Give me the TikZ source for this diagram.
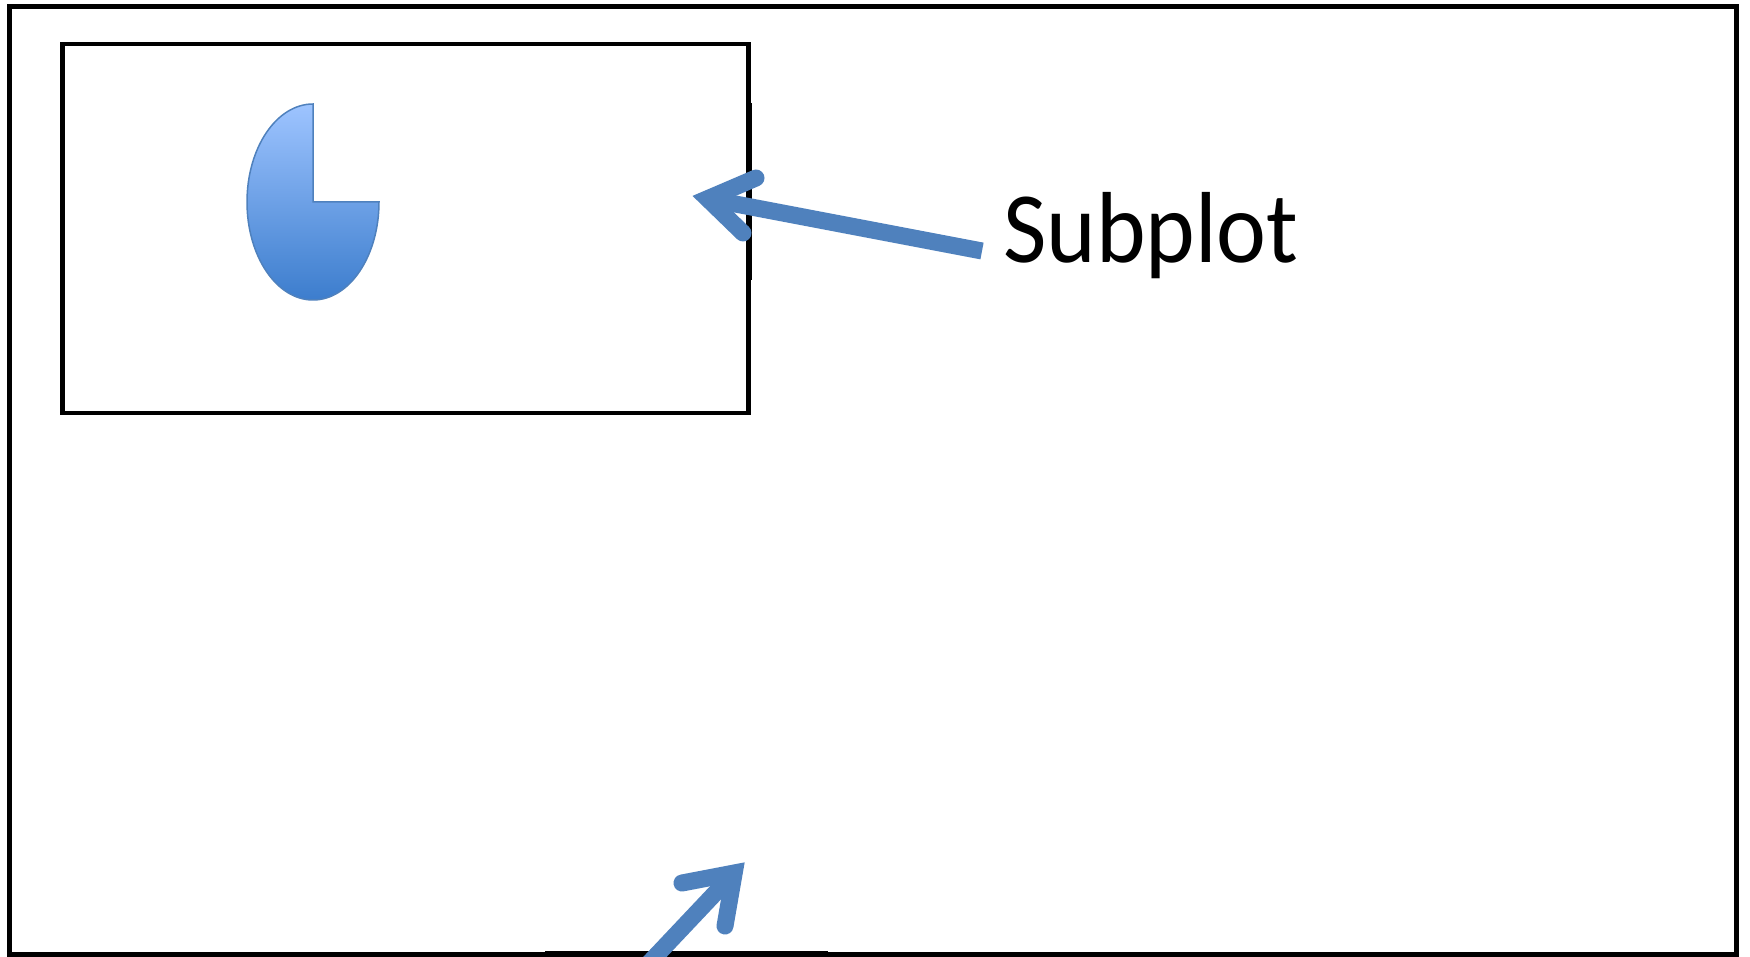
\documentclass[tikz,border=0pt]{standalone}
\usepackage{fontspec}
\setmainfont{Carlito}
\definecolor{arrowblue}{RGB}{79,129,189}
\definecolor{pietop}{RGB}{158,196,255}
\definecolor{piebot}{RGB}{60,125,205}
\definecolor{pieedge}{RGB}{79,129,189}
\tikzset{
  frame/.style={draw=black, line width=5pt},
  subframe/.style={draw=black, line width=4.5pt},
  arrowline/.style={draw=arrowblue, line width=17pt, line cap=butt},
  arrowbarb/.style={draw=arrowblue, line width=17pt, line cap=round, line join=miter, miter limit=20},
  label/.style={font=\fontsize{101}{120}\selectfont, inner sep=0pt, anchor=base west}
}
\begin{document}
\begin{tikzpicture}[x=1pt, y=-1pt]
\useasboundingbox (0,0) rectangle (1750,957);
\clip (0,0) rectangle (1750,957);
\fill[white] (0,0) rectangle (1750,957);
% outer frame
\draw[frame] (9,6.5) rectangle (1736.5,954.7);
% inner subplot frame
\draw[subframe] (62.5,44) rectangle (748.5,413);
\draw[draw=black, line width=4pt] (750,103) -- (750,280);
% bottom segment
\draw[draw=black, line width=6pt] (545,954) -- (828,954);
% pie shape
\shade[top color=pietop, bottom color=piebot, draw=pieedge, line width=1.5pt]
  (313,202) -- ++(66,0) arc[start angle=0, end angle=270, x radius=66, y radius=98] -- cycle;
% label
\node[label] (sub) at (1003,263) {\scalebox{0.935}[1]{Subplot}};
% arrow to subplot
\coordinate (t1) at (982,251);
\coordinate (h1) at (707.6,198.7);
\coordinate (b1a) at (756,178);
\coordinate (b1b) at (743,233);
\draw[arrowline] (t1) -- (h1);
\draw[arrowbarb] (b1a) -- (h1) -- (b1b);
% bottom arrow
\coordinate (t2) at (635,978);
\coordinate (h2) at (734.2,873);
\coordinate (b2a) at (682,883);
\coordinate (b2b) at (725,926);
\draw[arrowline] (t2) -- (h2);
\draw[arrowbarb] (b2a) -- (h2) -- (b2b);
\end{tikzpicture}
\end{document}
